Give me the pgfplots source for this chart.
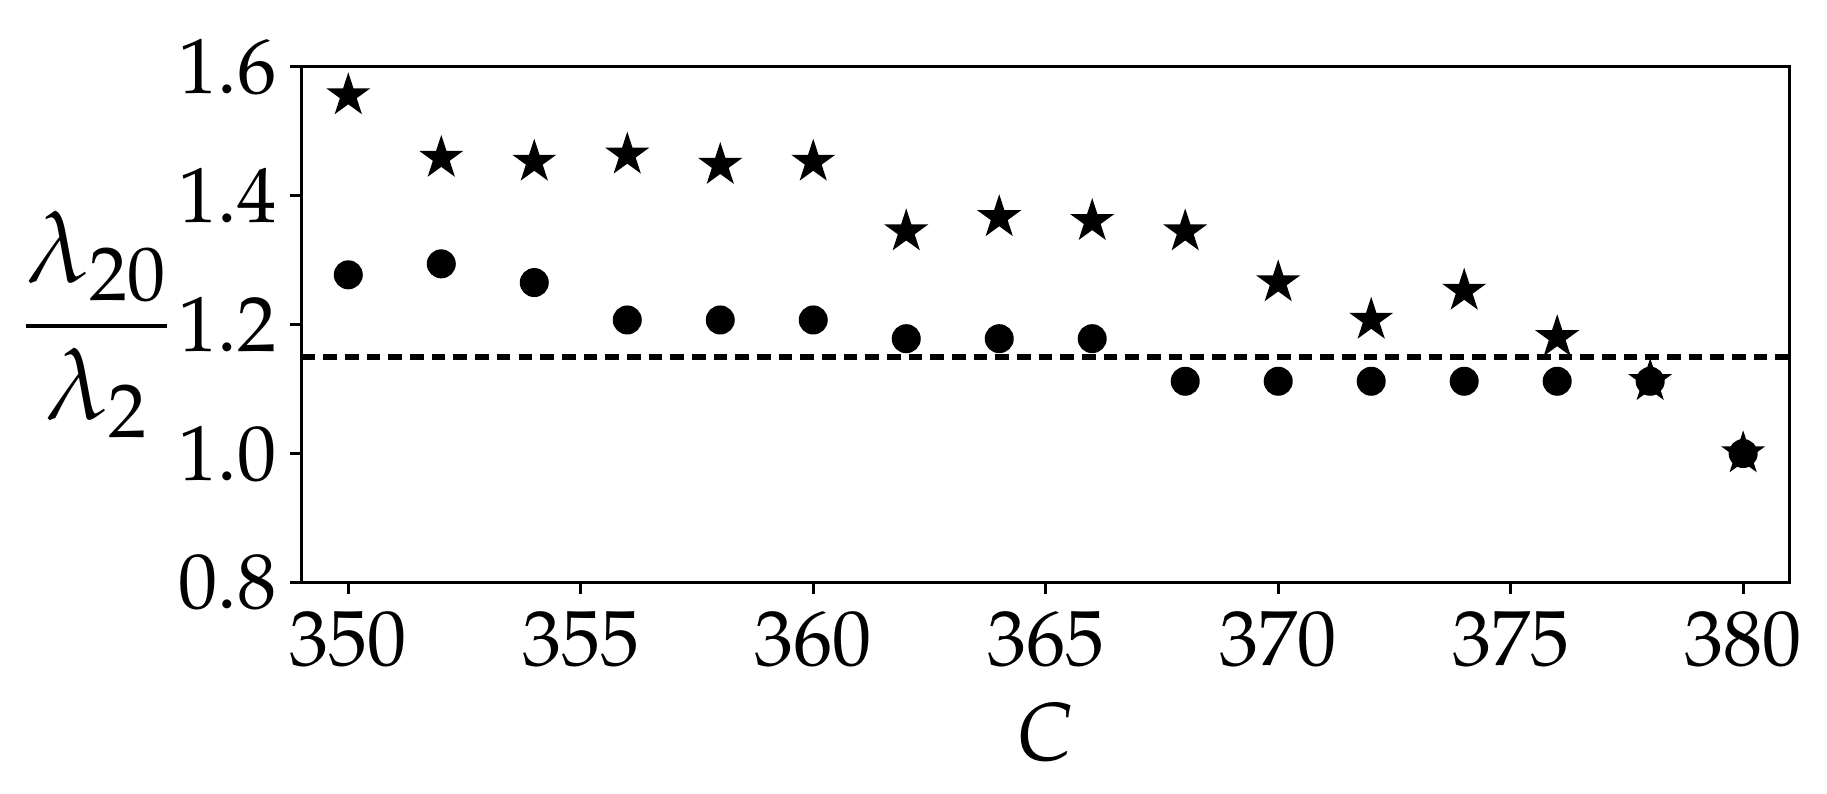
\documentclass[border=0pt]{standalone}
\usepackage{mathpazo}
\usepackage{pgfplots}
\pgfplotsset{compat=1.18}

% filled five-pointed star, like matplotlib's '*'
\pgfdeclareplotmark{fstar}{%
  \pgfpathmoveto{\pgfpointpolar{90}{\pgfplotmarksize}}%
  \pgfpathlineto{\pgfpointpolar{126}{0.382\pgfplotmarksize}}%
  \pgfpathlineto{\pgfpointpolar{162}{\pgfplotmarksize}}%
  \pgfpathlineto{\pgfpointpolar{198}{0.382\pgfplotmarksize}}%
  \pgfpathlineto{\pgfpointpolar{234}{\pgfplotmarksize}}%
  \pgfpathlineto{\pgfpointpolar{270}{0.382\pgfplotmarksize}}%
  \pgfpathlineto{\pgfpointpolar{306}{\pgfplotmarksize}}%
  \pgfpathlineto{\pgfpointpolar{342}{0.382\pgfplotmarksize}}%
  \pgfpathlineto{\pgfpointpolar{18}{\pgfplotmarksize}}%
  \pgfpathlineto{\pgfpointpolar{54}{0.382\pgfplotmarksize}}%
  \pgfpathclose
  \pgfusepathqfillstroke
}

\begin{document}
\begin{tikzpicture}
\begin{axis}[
    scale only axis,
    width=13.03cm,
    height=4.52cm,
    xmin=349, xmax=381,
    ymin=0.8, ymax=1.6,
    xtick={350,355,...,380},
    ytick={0.8,1.0,...,1.6},
    yticklabel style={/pgf/number format/.cd, fixed, fixed zerofill, precision=1},
    tick label style={font=\fontsize{19.5}{22}\selectfont},
    xticklabel style={yshift=-1pt},
    tick align=outside,
    xtick pos=bottom,
    ytick pos=left,
    major tick length=0.1cm,
    every tick/.style={black, line width=0.8pt},
    axis line style={line width=0.8pt},
    xlabel={$C$},
    xlabel style={font=\fontsize{20.5}{24}\selectfont, at={(axis description cs:0.5,-0.29)}, anchor=center},
    clip=false,
]
% threshold
\addplot[black, line width=1.4pt, dash pattern=on 3.4pt off 2pt] coordinates {(349,1.15) (381,1.15)};

% circles
\addplot[only marks, mark=*, mark size=0.12cm, black] coordinates {
    (350,1.277) (352,1.294) (354,1.265) (356,1.207) (358,1.207) (360,1.207)
    (362,1.178) (364,1.178) (366,1.178) (368,1.112) (370,1.112) (372,1.112)
    (374,1.112) (376,1.112) (378,1.112) (380,1.000)
};

% stars
\addplot[only marks, mark=fstar, mark size=0.18cm, black] coordinates {
    (350,1.555) (352,1.458) (354,1.452) (356,1.463) (358,1.447) (360,1.452)
    (362,1.344) (364,1.366) (366,1.360) (368,1.344) (370,1.265) (372,1.207)
    (374,1.252) (376,1.180) (378,1.112) (380,1.000)
};

\node[anchor=east, inner sep=0pt, font=\fontsize{25}{30}\selectfont]
    at (axis description cs:-0.0865,0.5) {$\displaystyle\frac{\lambda_{20}}{\lambda_2}$};
\end{axis}
\path ([shift={(-2.643cm,-1.847cm)}]current axis.south west)
      rectangle ([shift={(0.327cm,0.582cm)}]current axis.north east);
\end{tikzpicture}
\end{document}
